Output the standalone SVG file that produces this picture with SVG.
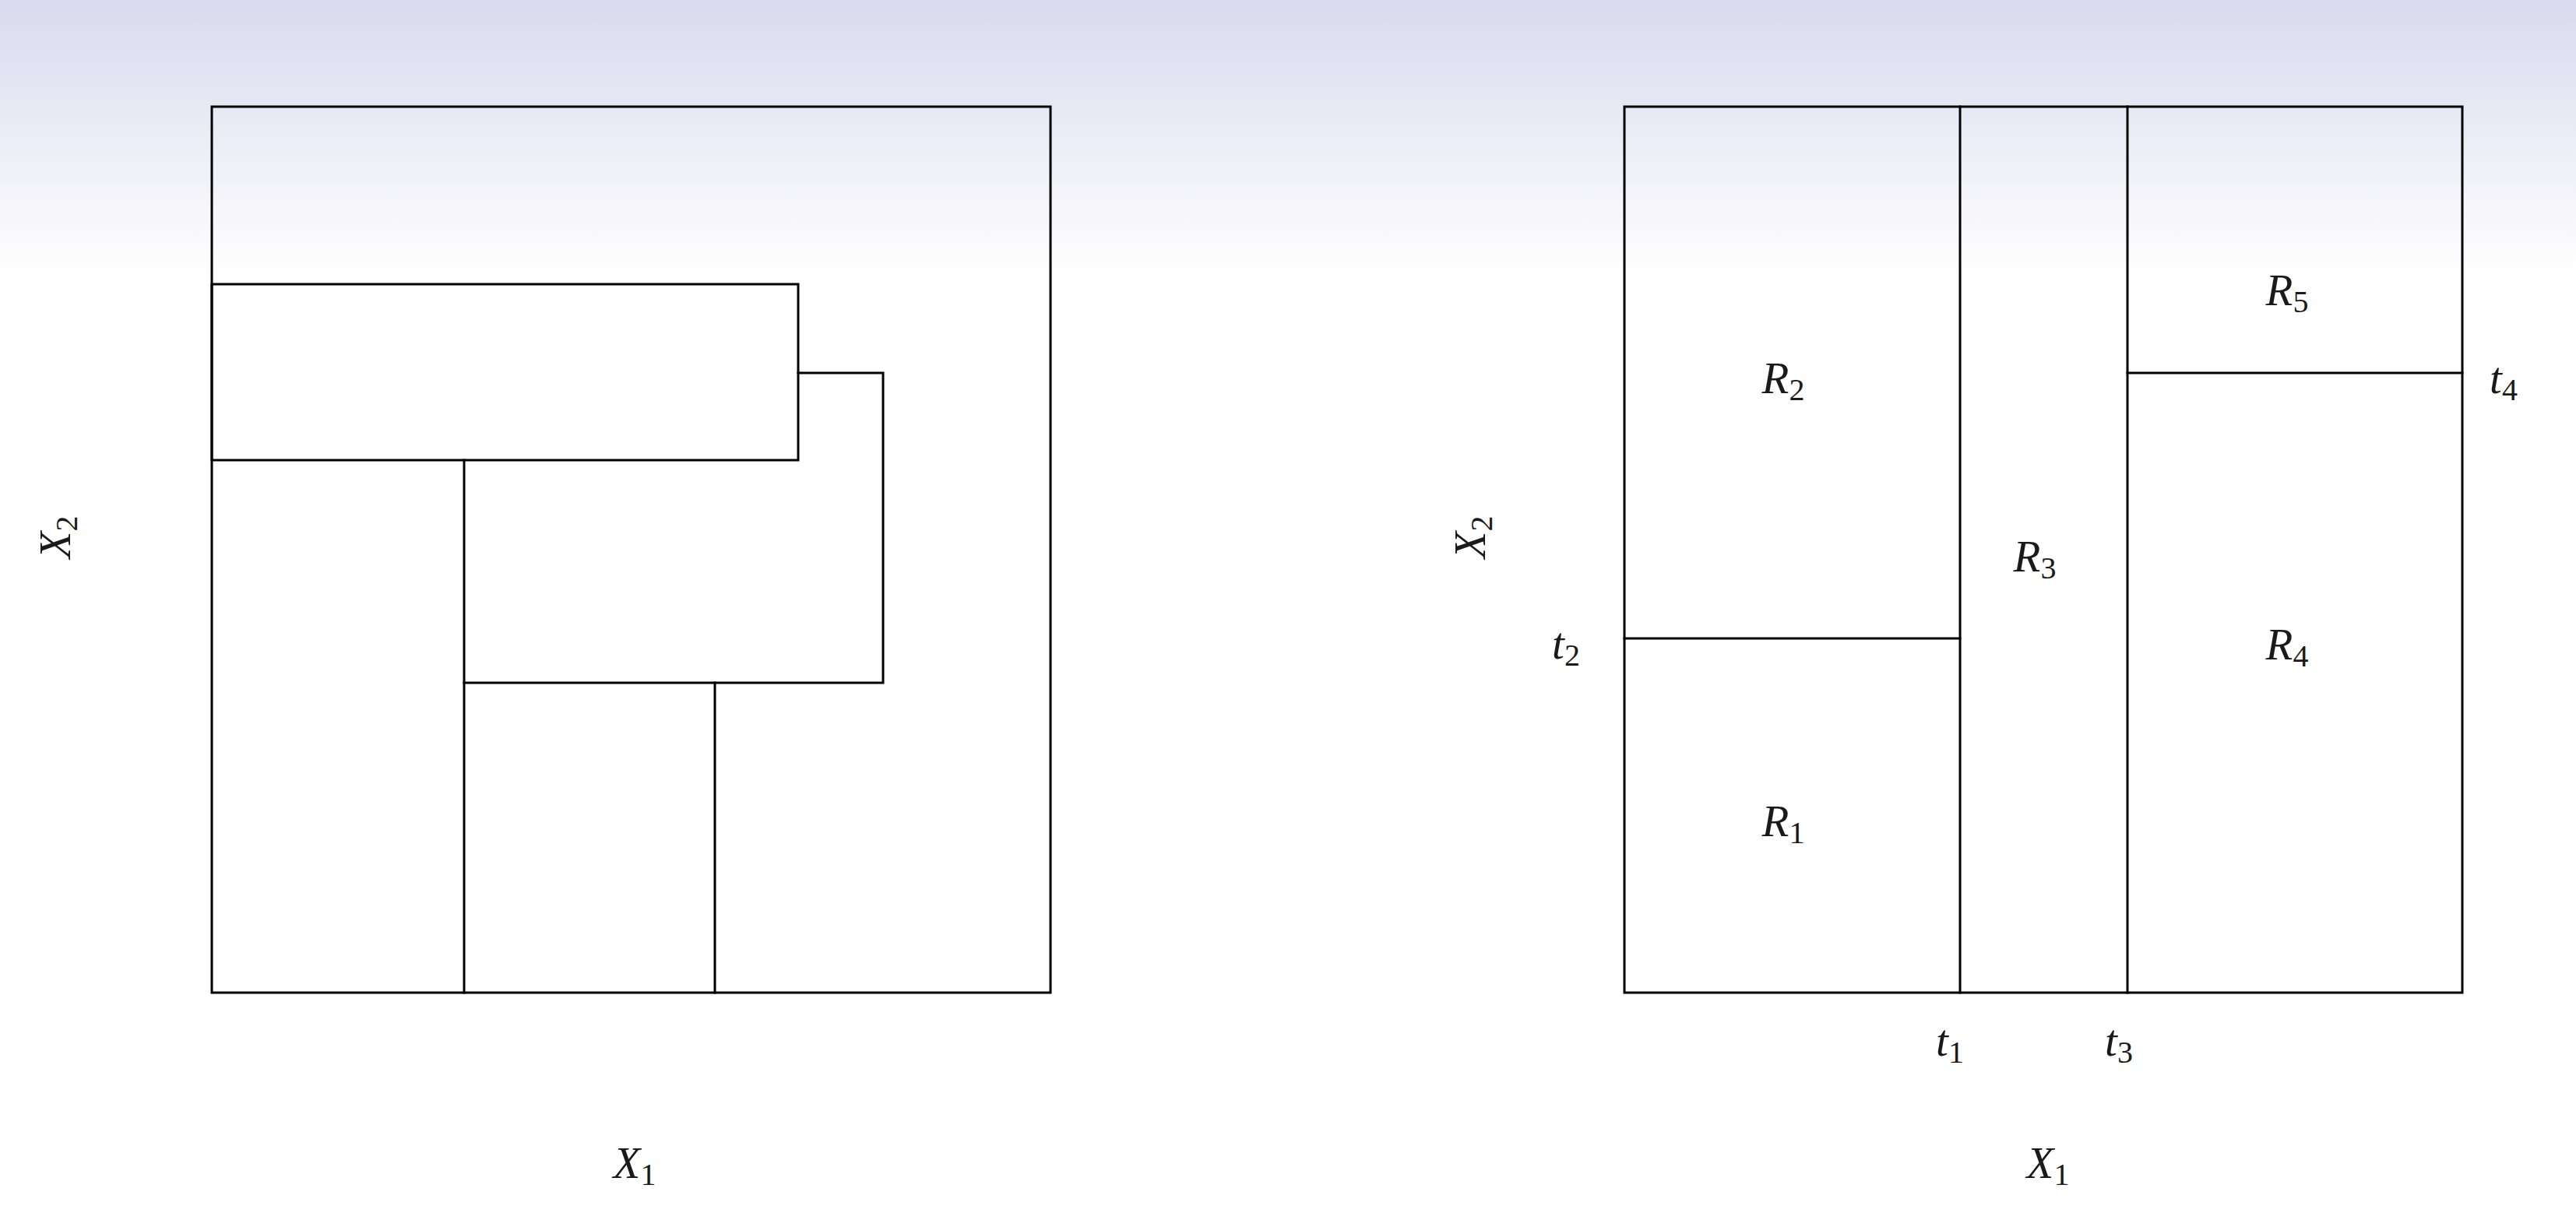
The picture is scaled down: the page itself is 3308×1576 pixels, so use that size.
<svg xmlns="http://www.w3.org/2000/svg" width="3308" height="1576" viewBox="0 0 3308 1576">
<defs>
<linearGradient id="bg" x1="0" y1="0" x2="0" y2="1576" gradientUnits="userSpaceOnUse">
<stop offset="0" stop-color="#d9daee"/>
<stop offset="0.225" stop-color="#ffffff"/>
<stop offset="1" stop-color="#ffffff"/>
</linearGradient>
<style>
.ln{fill:none;stroke:#000;stroke-width:3;stroke-linecap:square}
text{font-family:'Liberation Serif',serif;font-size:57px;fill:#1a1a1a}
.i{font-style:italic}
.s{font-size:40px;font-style:normal}
</style>
</defs>
<rect x="0" y="0" width="3308" height="1576" fill="url(#bg)"/>
<g id="left-panel">
<rect class="ln" x="272" y="137" width="1077" height="1138"/>
<rect class="ln" x="272" y="365" width="753" height="226"/>
<polyline class="ln" points="1025,479 1134,479 1134,877 596,877"/>
<line class="ln" x1="596" y1="591" x2="596" y2="1275"/>
<line class="ln" x1="918" y1="877" x2="918" y2="1275"/>
<text x="815" y="1513" text-anchor="middle"><tspan class="i">X</tspan><tspan class="s" dy="9">1</tspan></text>
<text transform="translate(90,690) rotate(-90)" text-anchor="middle"><tspan class="i">X</tspan><tspan class="s" dy="9">2</tspan></text>
</g>
<g id="right-panel">
<rect class="ln" x="2086" y="137" width="1076" height="1138"/>
<line class="ln" x1="2517" y1="137" x2="2517" y2="1275"/>
<line class="ln" x1="2732" y1="137" x2="2732" y2="1275"/>
<line class="ln" x1="2086" y1="820" x2="2517" y2="820"/>
<line class="ln" x1="2732" y1="479" x2="3162" y2="479"/>
<text x="2290" y="1074" text-anchor="middle"><tspan class="i">R</tspan><tspan class="s" dy="9">1</tspan></text>
<text x="2290" y="505" text-anchor="middle"><tspan class="i">R</tspan><tspan class="s" dy="9">2</tspan></text>
<text x="2613" y="734" text-anchor="middle"><tspan class="i">R</tspan><tspan class="s" dy="9">3</tspan></text>
<text x="2937" y="847" text-anchor="middle"><tspan class="i">R</tspan><tspan class="s" dy="9">4</tspan></text>
<text x="2937" y="392" text-anchor="middle"><tspan class="i">R</tspan><tspan class="s" dy="9">5</tspan></text>
<text x="2504" y="1356" text-anchor="middle"><tspan class="i">t</tspan><tspan class="s" dy="9">1</tspan></text>
<text x="2011" y="846" text-anchor="middle"><tspan class="i">t</tspan><tspan class="s" dy="9">2</tspan></text>
<text x="2721" y="1356" text-anchor="middle"><tspan class="i">t</tspan><tspan class="s" dy="9">3</tspan></text>
<text x="3215" y="505" text-anchor="middle"><tspan class="i">t</tspan><tspan class="s" dy="9">4</tspan></text>
<text x="2630" y="1513" text-anchor="middle"><tspan class="i">X</tspan><tspan class="s" dy="9">1</tspan></text>
<text transform="translate(1907,690) rotate(-90)" text-anchor="middle"><tspan class="i">X</tspan><tspan class="s" dy="9">2</tspan></text>
</g>
</svg>
